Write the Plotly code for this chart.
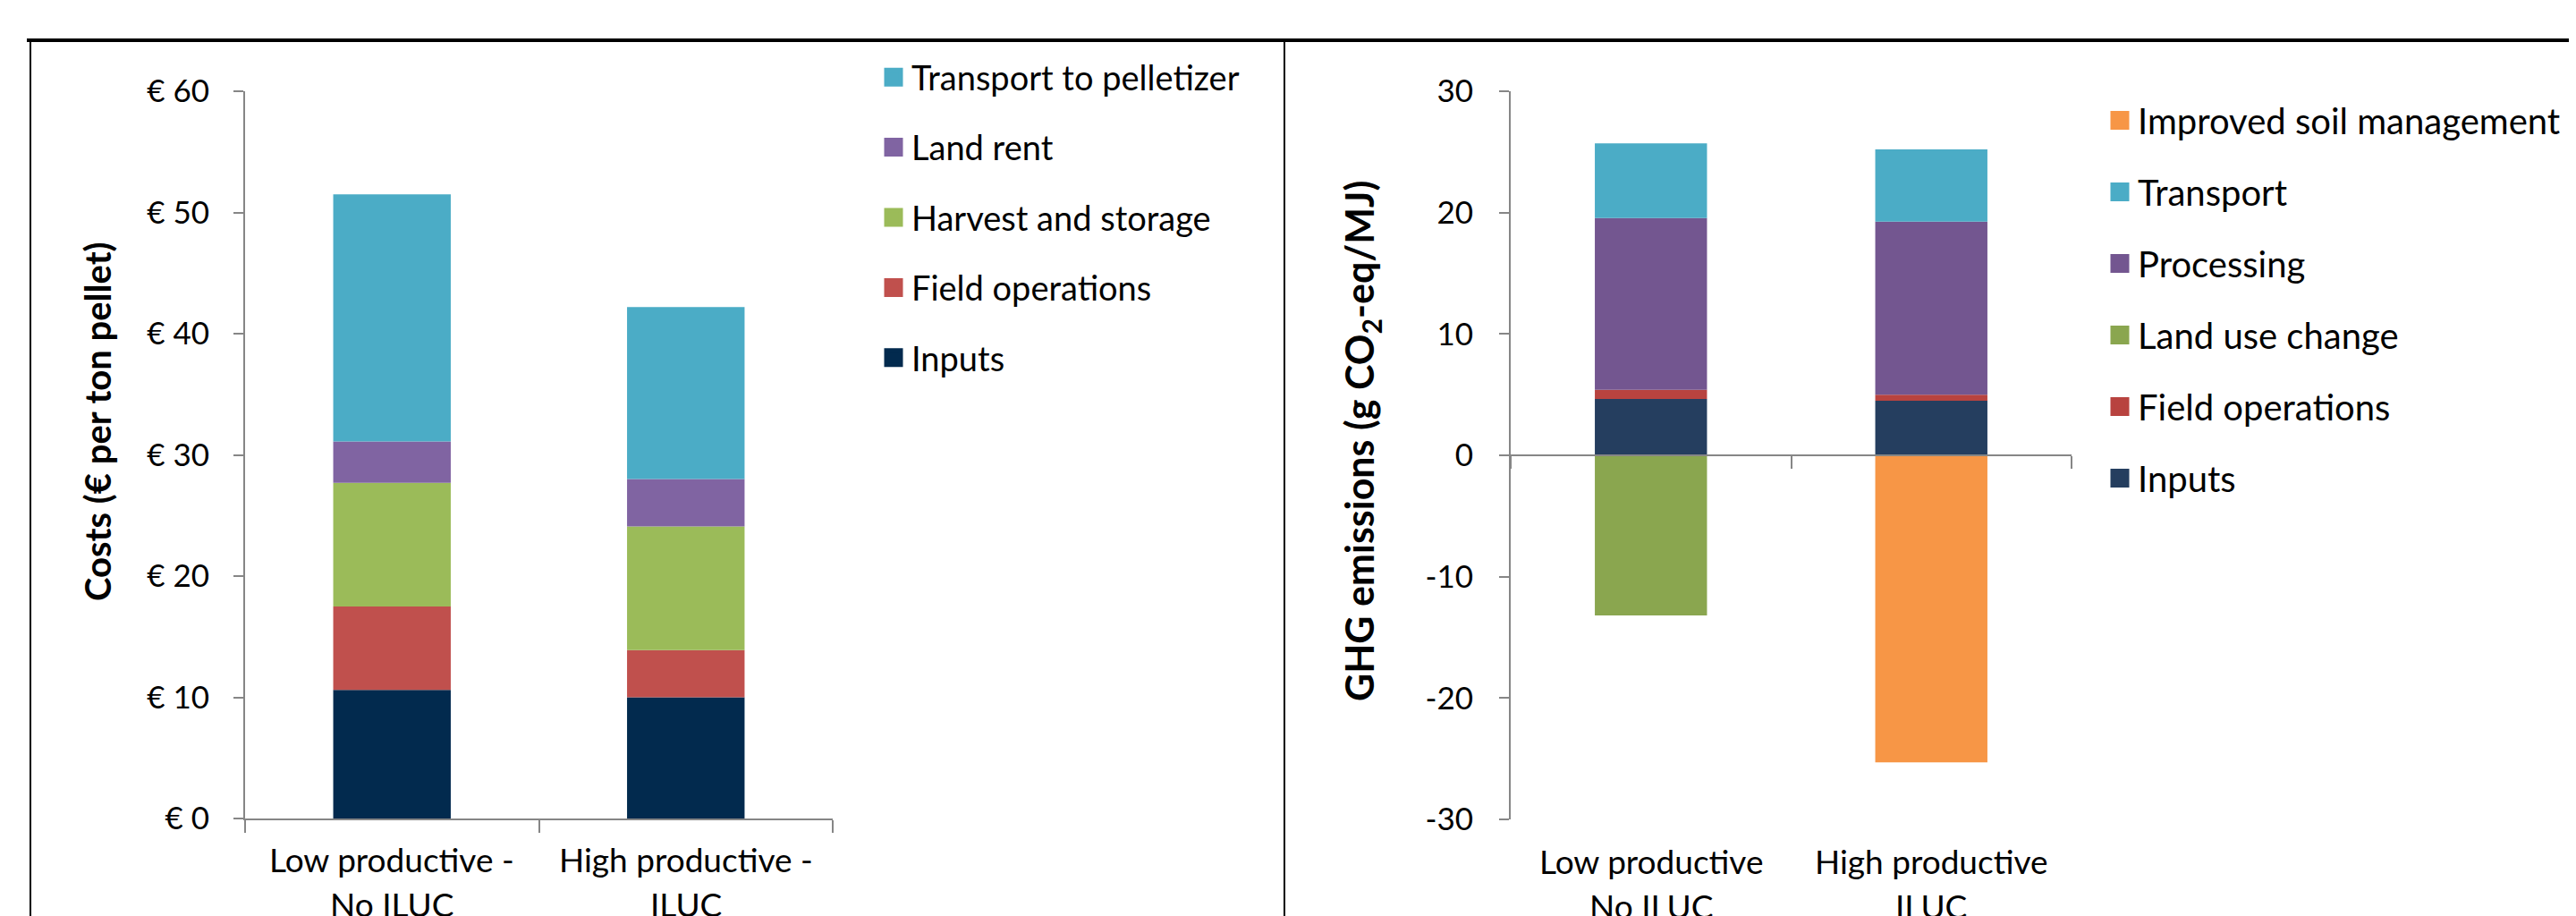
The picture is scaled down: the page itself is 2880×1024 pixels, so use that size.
import plotly.graph_objects as go

W, H = 2880, 1024

# ---------------- data ----------------
cost_categories = ["Low productive - No ILUC", "High productive - ILUC"]
cost_label_line1 = ["Low productive -", "High productive -"]
cost_label_line2 = ["No ILUC", "ILUC"]
cost_inputs = [10.6, 10.0]
cost_field_operations = [6.9, 3.9]
cost_harvest_storage = [10.2, 10.2]
cost_land_rent = [3.4, 3.9]
cost_transport = [20.4, 14.2]
cost_ticks = [0, 10, 20, 30, 40, 50, 60]
cost_ticktext = ["€ 0", "€ 10", "€ 20", "€ 30", "€ 40", "€ 50", "€ 60"]

ghg_categories = ["Low productive No ILUC", "High productive ILUC"]
ghg_label_line1 = ["Low productive", "High productive"]
ghg_label_line2 = ["No ILUC", "ILUC"]
ghg_inputs = [4.65, 4.5]
ghg_field_operations = [0.75, 0.5]
ghg_processing = [14.15, 14.25]
ghg_transport = [6.15, 5.95]
ghg_land_use_change = [-13.2, None]
ghg_improved_soil = [None, -25.3]
ghg_ticks = [-30, -20, -10, 0, 10, 20, 30]
ghg_ticktext = ["-30", "-20", "-10", "0", "10", "20", "30"]

# legend order, top to bottom, as in the reference
cost_legend_order = ["Transport to pelletizer", "Land rent", "Harvest and storage",
                     "Field operations", "Inputs"]
ghg_legend_order = ["Improved soil management", "Transport", "Processing",
                    "Land use change", "Field operations", "Inputs"]

# ---------------- style ----------------
FONT = "Lato"
FS = 35
LABEL_FS = 37
LEG_FS = 38
LEG2_FS = 40
AXIS_GREY = "#868686"

cost_series = [
    ("Inputs", cost_inputs, "#022A4E"),
    ("Field operations", cost_field_operations, "#C0504D"),
    ("Harvest and storage", cost_harvest_storage, "#9BBB59"),
    ("Land rent", cost_land_rent, "#8064A2"),
    ("Transport to pelletizer", cost_transport, "#4BACC6"),
]
ghg_series = [
    ("Inputs", ghg_inputs, "#253E5F"),
    ("Field operations", ghg_field_operations, "#B8433F"),
    ("Processing", ghg_processing, "#735690"),
    ("Transport", ghg_transport, "#4BACC6"),
    ("Land use change", ghg_land_use_change, "#8AA64F"),
    ("Improved soil management", ghg_improved_soil, "#F79646"),
]

def px_x(p):
    return p / W

def px_y(p):
    return 1 - p / H

fig = go.Figure()

for name, vals, col in cost_series:
    fig.add_trace(go.Bar(x=cost_categories, y=vals, name=name, marker_color=col,
                         marker_line_width=0, showlegend=False, xaxis="x", yaxis="y"))
for name, vals, col in ghg_series:
    fig.add_trace(go.Bar(x=ghg_categories, y=vals, name=name, marker_color=col,
                         marker_line_width=0, showlegend=False, xaxis="x2", yaxis="y2"))

# legend entries with large square swatches
cost_colors = {n: c for n, _, c in cost_series}
ghg_colors = {n: c for n, _, c in ghg_series}
for i, name in enumerate(cost_legend_order):
    col = cost_colors[name]
    fig.add_trace(go.Scatter(x=[None], y=[None], mode="markers", name=name,
                             marker=dict(symbol="square", size=16, color=col,
                                         line=dict(width=5, color=col)),
                             legend="legend", legendgroup="c%d" % i,
                             xaxis="x", yaxis="y"))
for i, name in enumerate(ghg_legend_order):
    col = ghg_colors[name]
    fig.add_trace(go.Scatter(x=[None], y=[None], mode="markers", name=name,
                             marker=dict(symbol="square", size=16, color=col,
                                         line=dict(width=5, color=col)),
                             legend="legend2", legendgroup="g%d" % i,
                             xaxis="x2", yaxis="y2"))

left_dom_x = [px_x(266), px_x(923)]
right_dom_x = [px_x(1681), px_x(2308)]
left_dom_y = [px_y(907), px_y(94)]
right_dom_y = [px_y(908), px_y(94)]

tickfont = dict(family=FONT, size=FS, color="#000000")

fig.update_layout(
    width=W, height=H,
    margin=dict(l=0, r=0, t=0, b=0, pad=0, autoexpand=False),
    paper_bgcolor="white", plot_bgcolor="white",
    barmode="relative", bargap=0.6,
    font=dict(family=FONT, size=FS, color="#000000"),
    xaxis=dict(domain=left_dom_x, anchor="y", type="category",
               range=[-0.5, 1.5], showline=True, linecolor=AXIS_GREY, linewidth=2,
               ticks="outside", tickson="boundaries", ticklen=14, tickwidth=1.5,
               tickcolor=AXIS_GREY, showticklabels=False, showgrid=False, zeroline=False,
               automargin=False),
    yaxis=dict(domain=left_dom_y, anchor="x", range=[0, 60], tickvals=cost_ticks,
               ticktext=cost_ticktext, showline=True, linecolor=AXIS_GREY, linewidth=2,
               ticks="outside", ticklen=11, tickwidth=1.5, tickcolor=AXIS_GREY,
               tickfont=tickfont, ticklabelstandoff=20, showgrid=False, zeroline=False,
               automargin=False),
    xaxis2=dict(domain=right_dom_x, anchor="free",
                position=(right_dom_y[0] + right_dom_y[1]) / 2, type="category",
                range=[-0.5, 1.5], showline=True, linecolor=AXIS_GREY, linewidth=2,
                ticks="outside", tickson="boundaries", ticklen=14, tickwidth=1.5,
                tickcolor=AXIS_GREY, showticklabels=False, showgrid=False, zeroline=False,
                automargin=False),
    yaxis2=dict(domain=right_dom_y, anchor="x2", range=[-30, 30], tickvals=ghg_ticks,
                ticktext=ghg_ticktext, showline=True, linecolor=AXIS_GREY, linewidth=2,
                ticks="outside", ticklen=11, tickwidth=1.5, tickcolor=AXIS_GREY,
                tickfont=tickfont, ticklabelstandoff=22, showgrid=False, zeroline=False,
                automargin=False),
    legend=dict(x=px_x(971), y=px_y(47), xanchor="left", yanchor="top",
                bgcolor="rgba(0,0,0,0)", font=dict(family=FONT, size=LEG_FS),
                traceorder="grouped", tracegroupgap=26, itemwidth=30),
    legend2=dict(x=px_x(2342), y=px_y(94), xanchor="left", yanchor="top",
                 bgcolor="rgba(0,0,0,0)", font=dict(family=FONT, size=LEG2_FS),
                 traceorder="grouped", tracegroupgap=25, itemwidth=30),
)

# category labels (two lines, wide spacing as in the reference)
ann = []
for c, l1, l2 in zip(cost_categories, cost_label_line1, cost_label_line2):
    ann.append(dict(x=c, xref="x", y=px_y(952), yref="paper", text=l1, showarrow=False,
                    yanchor="middle", font=dict(family=FONT, size=LABEL_FS)))
    ann.append(dict(x=c, xref="x", y=px_y(1002), yref="paper", text=l2, showarrow=False,
                    yanchor="middle", font=dict(family=FONT, size=LABEL_FS)))
for c, l1, l2 in zip(ghg_categories, ghg_label_line1, ghg_label_line2):
    ann.append(dict(x=c, xref="x2", y=px_y(954), yref="paper", text=l1, showarrow=False,
                    yanchor="middle", font=dict(family=FONT, size=LABEL_FS)))
    ann.append(dict(x=c, xref="x2", y=px_y(1004), yref="paper", text=l2, showarrow=False,
                    yanchor="middle", font=dict(family=FONT, size=LABEL_FS)))

# axis titles
ann.append(dict(x=px_x(101), y=px_y(463), xref="paper", yref="paper",
                text="<b>Costs (€ per ton pellet)</b>", textangle=-90, showarrow=False,
                xanchor="center", yanchor="middle", font=dict(family=FONT, size=40)))
ann.append(dict(x=px_x(1514), y=px_y(485), xref="paper", yref="paper",
                text="<b>GHG emissions (g CO<sub>2</sub>-eq/MJ)</b>", textangle=-90,
                showarrow=False, xanchor="center", yanchor="middle",
                font=dict(family=FONT, size=43)))
fig.update_layout(annotations=ann)

# document frame
frame = [
    dict(type="line", xref="paper", yref="paper", x0=px_x(22), x1=1, y0=px_y(37), y1=px_y(37),
         line=dict(color="black", width=4)),
    dict(type="line", xref="paper", yref="paper", x0=px_x(26), x1=px_x(26), y0=px_y(38), y1=0,
         line=dict(color="black", width=2)),
    dict(type="line", xref="paper", yref="paper", x0=px_x(1428), x1=px_x(1428), y0=px_y(38), y1=0,
         line=dict(color="black", width=2)),
    dict(type="line", xref="paper", yref="paper", x0=px_x(2874), x1=px_x(2874), y0=px_y(38), y1=0,
         line=dict(color="black", width=2)),
]
fig.update_layout(shapes=frame)

fig.write_html("out.html")
